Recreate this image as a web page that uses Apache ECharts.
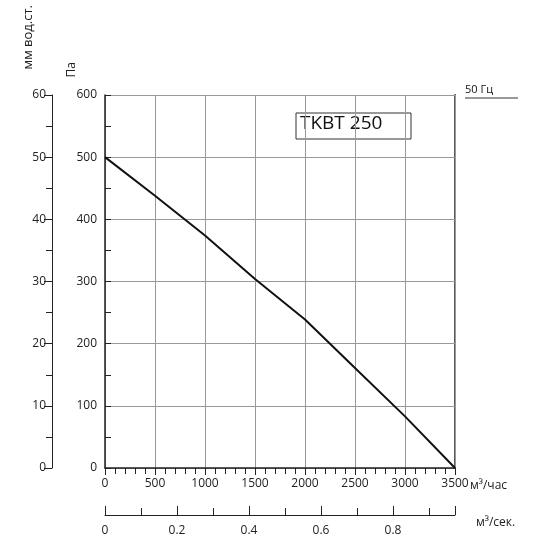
<!DOCTYPE html>
<html><head><meta charset="utf-8">
<script src="https://cdn.jsdelivr.net/npm/echarts@6/dist/echarts.min.js"></script>
<style>html,body{margin:0;padding:0;background:#fff}#c{width:550px;height:550px}</style>
</head><body><div id="c"></div>
<script>
const flow = [0, 500, 1000, 1500, 2000, 2500, 3000, 3500];
const pressure = [500, 438, 374, 304, 239, 161, 83, 0];
const title = 'TKBT 250';
const freq = '50 Гц';
const ch = echarts.init(document.getElementById('c'));
const F = 'Open Sans, Arial, sans-serif';
const lbl = {color:'#222', fontSize:12, fontFamily:F};
ch.setOption({
  animation:false,
  grid:[{left:105, top:95, width:350, height:373}],
  xAxis:[
    {type:'value', min:0, max:3500, interval:500, position:'bottom',
     axisLine:{onZero:false, lineStyle:{color:'#222', width:1.5}}, axisTick:{inside:false, length:7, lineStyle:{color:'#222'}},
     minorTick:{show:true, splitNumber:5, length:6, lineStyle:{color:'#222'}},
     axisLabel:Object.assign({margin:10, formatter:v=>String(v)}, lbl),
     splitLine:{show:true, lineStyle:{color:'#999', width:1}}},
    {type:'value', min:0, max:3500/3600, interval:0.2, position:'bottom', offset:47,
     axisLine:{show:true, onZero:false, lineStyle:{color:'#222'}}, axisTick:{show:true, inside:true, length:9, lineStyle:{color:'#222'}},
     minorTick:{show:true, splitNumber:2, length:7, lineStyle:{color:'#222'}},
     axisLabel:Object.assign({margin:10, showMaxLabel:false, formatter:v=>v===0?'0':v.toFixed(1)}, lbl),
     splitLine:{show:false}}
  ],
  yAxis:[
    {type:'value', min:0, max:600, interval:100, position:'left',
     axisLine:{onZero:false, lineStyle:{color:'#222', width:1.5}}, axisTick:{show:true, inside:true, length:6, lineStyle:{color:'#222'}},
     minorTick:{show:true, splitNumber:2, length:6, lineStyle:{color:'#222'}},
     axisLabel:Object.assign({margin:8}, lbl),
     splitLine:{show:true, lineStyle:{color:'#999'}}},
    {type:'value', min:0, max:60, interval:10, position:'left', offset:53,
     axisLine:{show:true, onZero:false, lineStyle:{color:'#222'}}, axisTick:{show:true, length:8, lineStyle:{color:'#222'}},
     minorTick:{show:true, splitNumber:2, length:6, lineStyle:{color:'#222'}},
     axisLabel:Object.assign({margin:6}, lbl), splitLine:{show:false}}
  ],
  graphic:[
    {type:'rect', shape:{x:455, y:95, width:0.1, height:373}, style:{fill:'#222', stroke:'#222', lineWidth:1.5}},
    {type:'rect', shape:{x:296, y:113, width:115, height:26}, style:{fill:'#fff', stroke:'#333', lineWidth:1}},
    {type:'text', left:300, top:114, style:{text:title, font:'19px '+F, fill:'#111'}},
    {type:'text', left:465, top:84, style:{text:freq, font:'11px '+F, fill:'#111'}},
    {type:'line', shape:{x1:465, y1:98, x2:518, y2:98}, style:{stroke:'#333', lineWidth:1}},
    {type:'text', left:470, top:480, style:{text:'м³/час', font:'12px '+F, fill:'#222'}},
    {type:'text', left:476, top:517, style:{text:'м³/сек.', font:'12px '+F, fill:'#222'}},
    {type:'text', left:66, top:62, rotation:Math.PI/2, style:{text:'Па', font:'12px '+F, fill:'#222'}},
    {type:'text', left:22, top:5, rotation:Math.PI/2, style:{text:'мм вод.ст.', font:'13px '+F, fill:'#222'}}
  ],
  series:[{type:'line', xAxisIndex:0, yAxisIndex:0, data:flow.map((f,i)=>[f,pressure[i]]),
    smooth:false, symbol:'none', lineStyle:{color:'#111', width:2}}]
});
</script></body></html>
